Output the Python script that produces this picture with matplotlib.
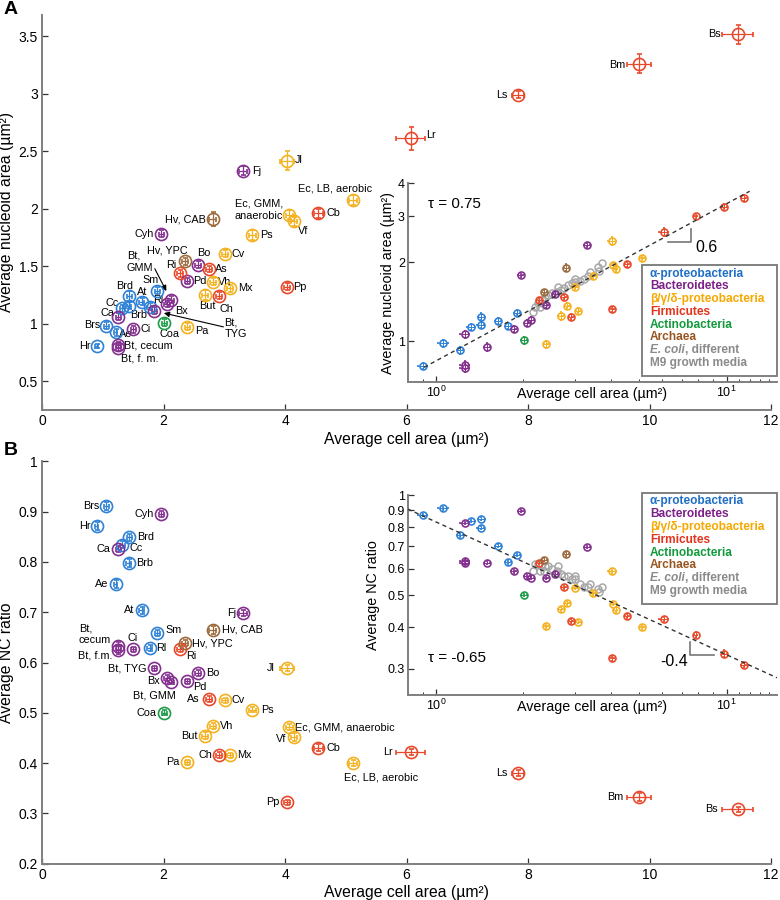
import matplotlib
matplotlib.use("Agg")
import matplotlib.pyplot as plt
from matplotlib.patches import Rectangle
import numpy as np

plt.rcParams['font.family'] = ['Liberation Sans', 'DejaVu Sans']
plt.rcParams['mathtext.default'] = 'regular'

# ---------------- data ----------------
species = ['Hr', 'Brs', 'Ae', 'Cc', 'Brd', 'Brb', 'At', 'Rl', 'Sm',
           'Ca', 'Ci', 'Bt, cecum', 'Bt, f.m.', 'Bt, TYG', 'Bt, GMM', 'Bx', 'Pd', 'Bo', 'Cyh', 'Fj',
           'Pa', 'But', 'Vh', 'Mx', 'Cv', 'Ps', 'Jl', 'Ec, GMM, anaerobic', 'Vf', 'Ec, LB, aerobic',
           'Ri', 'As', 'Ch', 'Pp', 'Cb', 'Lr', 'Ls', 'Bm', 'Bs',
           'Coa', 'Hv, CAB', 'Hv, YPC']
group = ['alpha'] * 9 + ['bact'] * 11 + ['beta'] * 10 + ['firm'] * 9 + ['actino'] + ['archaea'] * 2
cell_area = [0.90, 1.06, 1.21, 1.32, 1.435, 1.425, 1.64, 1.77, 1.90,
             1.255, 1.50, 1.255, 1.255, 1.85, 2.12, 2.06, 2.39, 2.57, 1.96, 3.31,
             2.39, 2.69, 2.82, 3.09, 3.01, 3.46, 4.03, 4.07, 4.15, 5.12,
             2.27, 2.75, 2.92, 4.04, 4.55, 6.07, 7.83, 9.83, 11.45,
             2.01, 2.81, 2.36]
nucleoid_area = [0.804, 0.981, 0.923, 1.132, 1.239, 1.155, 1.19, 1.146, 1.285,
                 1.06, 0.95, 0.813, 0.79, 1.11, 1.207, 1.17, 1.37, 1.51, 1.78, 2.33,
                 0.972, 1.248, 1.364, 1.306, 1.607, 1.77, 2.416, 1.946, 1.89, 2.074,
                 1.436, 1.474, 1.24, 1.32, 1.96, 2.61, 2.99, 3.26, 3.515,
                 1.007, 1.906, 1.543]
nc_ratio = [0.871, 0.911, 0.757, 0.834, 0.849, 0.798, 0.704, 0.628, 0.659,
            0.825, 0.626, 0.633, 0.625, 0.589, 0.562, 0.569, 0.563, 0.580, 0.895, 0.698,
            0.402, 0.454, 0.474, 0.416, 0.525, 0.506, 0.590, 0.471, 0.451, 0.400,
            0.626, 0.527, 0.417, 0.322, 0.431, 0.423, 0.380, 0.333, 0.308,
            0.500, 0.665, 0.639]
area_err = [0.03, 0.04, 0.03, 0.04, 0.04, 0.04, 0.04, 0.04, 0.04,
            0.04, 0.04, 0.04, 0.04, 0.04, 0.05, 0.05, 0.04, 0.05, 0.04, 0.07,
            0.04, 0.05, 0.05, 0.05, 0.05, 0.06, 0.12, 0.06, 0.05, 0.06,
            0.05, 0.05, 0.05, 0.05, 0.08, 0.24, 0.10, 0.20, 0.25,
            0.04, 0.06, 0.05]
nucleoid_err = [0.02, 0.03, 0.03, 0.03, 0.04, 0.03, 0.03, 0.03, 0.03,
                0.03, 0.03, 0.03, 0.03, 0.03, 0.03, 0.03, 0.03, 0.03, 0.03, 0.04,
                0.03, 0.04, 0.03, 0.03, 0.03, 0.04, 0.08, 0.04, 0.04, 0.04,
                0.03, 0.03, 0.03, 0.03, 0.04, 0.10, 0.03, 0.08, 0.08,
                0.03, 0.06, 0.03]
nc_err = [0.008, 0.008, 0.008, 0.007, 0.007, 0.008, 0.007, 0.006, 0.006,
          0.006, 0.005, 0.008, 0.008, 0.005, 0.005, 0.006, 0.005, 0.006, 0.006, 0.006,
          0.005, 0.007, 0.006, 0.005, 0.005, 0.005, 0.006, 0.006, 0.008, 0.006,
          0.006, 0.006, 0.006, 0.005, 0.006, 0.006, 0.006, 0.008, 0.005,
          0.005, 0.008, 0.006]

ecoli_area = [2.16, 2.19, 2.25, 2.28, 2.31, 2.36, 2.37, 2.43, 2.51, 2.60, 2.63, 2.69,
              2.76, 2.85, 2.93, 3.01, 3.01, 3.13, 3.24, 3.34, 3.39, 3.60, 3.64, 3.73]
ecoli_nucleoid = [1.29, 1.35, 1.40, 1.35, 1.43, 1.39, 1.46, 1.50, 1.53, 1.54, 1.61, 1.57,
                  1.60, 1.63, 1.66, 1.68, 1.73, 1.69, 1.72, 1.77, 1.83, 1.91, 1.85, 1.99]
ecoli_nc = [0.59, 0.62, 0.62, 0.59, 0.62, 0.59, 0.61, 0.61, 0.60, 0.59, 0.61, 0.58,
            0.57, 0.57, 0.56, 0.56, 0.57, 0.54, 0.53, 0.53, 0.54, 0.52, 0.51, 0.53]

fitA = (0.84, 0.6)     # prefactor, exponent
fitB = (0.83, -0.4)
tauA, tauB = 0.75, -0.65

legend_names = ['α-proteobacteria', 'Bacteroidetes', 'β/γ/δ-proteobacteria', 'Firmicutes',
                'Actinobacteria', 'Archaea']
legend_groups = ['alpha', 'bact', 'beta', 'firm', 'actino', 'archaea']

# ---------------- styles ----------------
mcol = {'alpha': '#2f82d6', 'bact': '#84308f', 'beta': '#f4b120', 'firm': '#e8492b',
        'actino': '#1e9c48', 'archaea': '#9c6a3c', 'ecoli': '#a8a8a8'}
tcol = {'alpha': '#1f6fc4', 'bact': '#7b2187', 'beta': '#f5a800', 'firm': '#e2341d',
        'actino': '#129a3c', 'archaea': '#995520', 'ecoli': '#8a8a8a'}
SPINE = '#7f7f7f'
LBL = 7.8

# label offsets (pixels) and alignment, panel A
labA = {
    'Hr': ('Hr', -6, 0, 'right'), 'Brs': ('Brs', -6, 1, 'right'), 'Ae': ('Ae', 3, -2, 'left'),
    'Cc': ('Cc', -3, 5, 'right'), 'Brd': ('Brd', -5, 10, 'center'), 'Brb': ('Brb', 10, -9, 'center'),
    'At': ('At', 1, 10, 'center'), 'Rl': ('Rl', 9, 7, 'center'), 'Sm': ('Sm', 1, 11, 'right'),
    'Ca': ('Ca', -4, 4, 'right'), 'Ci': ('Ci', 7, 0, 'left'), 'Bt, cecum': ('Bt, cecum', 6, 0, 'left'),
    'Bt, f.m.': ('Bt, f. m.', 3, -11, 'left'), 'Bx': ('Bx', 8, -7, 'left'), 'Pd': ('Pd', 6, 0, 'left'),
    'Bo': ('Bo', 6, 12, 'center'), 'Cyh': ('Cyh', -7, 0, 'right'), 'Fj': ('Fj', 9, 0, 'left'),
    'Pa': ('Pa', 8, -4, 'left'), 'But': ('But', 2, -11, 'center'), 'Vh': ('Vh', 5, 0, 'left'),
    'Mx': ('Mx', 8, 0, 'left'), 'Cv': ('Cv', 7, 0, 'left'), 'Ps': ('Ps', 8, 0, 'left'),
    'Jl': ('Jl', 8, 1, 'left'), 'Ec, GMM, anaerobic': ('Ec, GMM,\nanaerobic', -6, 5, 'right'),
    'Vf': ('Vf', 4, -10, 'left'), 'Ec, LB, aerobic': ('Ec, LB, aerobic', -18, 12, 'center'),
    'Ri': ('Ri', -4, 8, 'right'), 'As': ('As', 6, 0, 'left'), 'Ch': ('Ch', 7, -13, 'center'),
    'Pp': ('Pp', 6, 0, 'left'), 'Cb': ('Cb', 8, 0, 'left'), 'Lr': ('Lr', 15, 3, 'left'),
    'Ls': ('Ls', -10, 0, 'right'), 'Bm': ('Bm', -14, -1, 'right'), 'Bs': ('Bs', -17, 0, 'right'),
    'Coa': ('Coa', 5, -11, 'center'), 'Hv, CAB': ('Hv, CAB', -7, 0, 'right'),
    'Hv, YPC': ('Hv, YPC', 2, 11, 'right'),
}
# arrow labels in panel A: (text, text dx, text dy, arrow tail dx, tail dy)
arrA = {'Bt, GMM': ('Bt,\nGMM', -44, 38, -16, 31),
        'Bt, TYG': ('Bt,\nTYG', 70, -17, 69, -16)}

labB = {
    'Hr': ('Hr', -6, 0, 'right'), 'Brs': ('Brs', -7, 0, 'right'), 'Ae': ('Ae', -7, 0, 'right'),
    'Cc': ('Cc', 7, -3, 'left'), 'Brd': ('Brd', 8, 0, 'left'), 'Brb': ('Brb', 8, 0, 'left'),
    'At': ('At', -7, 0, 'right'), 'Rl': ('Rl', 7, 0, 'left'), 'Sm': ('Sm', 8, 3, 'left'),
    'Ca': ('Ca', -8, 0, 'right'), 'Ci': ('Ci', 0, 11, 'center'), 'Bt, cecum': ('Bt,\ncecum', -7, 12, 'right'),
    'Bt, f.m.': ('Bt, f.m.', -6, -6, 'right'), 'Bt, TYG': ('Bt, TYG', -8, 0, 'right'),
    'Bt, GMM': ('Bt, GMM', -16, -14, 'center'), 'Bx': ('Bx', -7, -3, 'right'),
    'Pd': ('Pd', 6, -6, 'left'), 'Bo': ('Bo', 8, 0, 'left'), 'Cyh': ('Cyh', -7, 0, 'right'),
    'Fj': ('Fj', -7, 0, 'right'), 'Pa': ('Pa', -8, 0, 'right'), 'But': ('But', -8, 0, 'right'),
    'Vh': ('Vh', 7, 0, 'left'), 'Mx': ('Mx', 7, 0, 'left'), 'Cv': ('Cv', 7, 0, 'left'),
    'Ps': ('Ps', 9, 0, 'left'), 'Jl': ('Jl', -12, 0, 'right'),
    'Ec, GMM, anaerobic': ('Ec, GMM, anaerobic', 6, 0, 'left'), 'Vf': ('Vf', -8, -2, 'right'),
    'Ec, LB, aerobic': ('Ec, LB, aerobic', 28, -14, 'center'), 'Ri': ('Ri', 6, -7, 'left'),
    'As': ('As', -9, 0, 'right'), 'Ch': ('Ch', -7, 0, 'right'), 'Pp': ('Pp', -8, 0, 'right'),
    'Cb': ('Cb', 8, 0, 'left'), 'Lr': ('Lr', -18, 0, 'right'), 'Ls': ('Ls', -10, 0, 'right'),
    'Bm': ('Bm', -16, 0, 'right'), 'Bs': ('Bs', -20, 0, 'right'), 'Coa': ('Coa', -8, 0, 'right'),
    'Hv, CAB': ('Hv, CAB', 9, 0, 'left'), 'Hv, YPC': ('Hv, YPC', 7, -1, 'left'),
}

W, H = 780, 900
fig = plt.figure(figsize=(7.8, 9), dpi=100)


def rect(l, t, r, b):
    return [l / W, 1 - b / H, (r - l) / W, (b - t) / H]


def P(px, py):
    return px / W, 1 - py / H


def style_axes(ax, size=10):
    for s in ['top', 'right']:
        ax.spines[s].set_visible(False)
    for s in ['left', 'bottom']:
        ax.spines[s].set_color(SPINE)
        ax.spines[s].set_linewidth(1.4)
    ax.tick_params(direction='in', length=4, width=0.9, color='#333333', labelsize=size, pad=3)
    ax.tick_params(which='minor', direction='in', length=2.5, width=0.7, color='#333333')


def draw_points(ax, x, y, xe, ye, ms, mew, elw, cap):
    for i in range(len(species)):
        c = mcol[group[i]]
        ax.errorbar(x[i], y[i], xerr=xe[i], yerr=ye[i], fmt='o', ms=ms, mfc='none', mec=c,
                    mew=mew, ecolor=c, elinewidth=elw, capsize=cap, capthick=elw, zorder=3)


MAIN_R = 771

# ---------------- panel A main ----------------
axA = fig.add_axes(rect(42, 15, MAIN_R, 410))
style_axes(axA, 10)
axA.set_xlim(0, 12)
axA.set_ylim(0.248, 3.683)
axA.set_xticks([0, 2, 4, 6, 8, 10, 12])
axA.set_yticks([0.5, 1, 1.5, 2, 2.5, 3, 3.5])
axA.set_yticklabels(['0.5', '1', '1.5', '2', '2.5', '3', '3.5'])
axA.set_xlabel('Average cell area (µm²)', fontsize=11.3, labelpad=3)
axA.set_ylabel('Average nucleoid area (µm²)', fontsize=11.3, labelpad=3)
draw_points(axA, cell_area, nucleoid_area, area_err, nucleoid_err, 8.7, 1.2, 0.9, 1.8)
for i, n in enumerate(species):
    if n in labA:
        t, dx, dy, ha = labA[n]
        axA.annotate(t, (cell_area[i], nucleoid_area[i]), xytext=(dx, dy), textcoords='offset pixels',
                     ha=ha, va='center', fontsize=LBL, multialignment='left')
    if n in arrA:
        t, tx, ty, ax_, ay_ = arrA[n]
        axA.annotate(t, (cell_area[i], nucleoid_area[i]), xytext=(tx, ty), textcoords='offset pixels',
                     ha='left', va='center', fontsize=LBL, multialignment='left')
        axA.annotate('', (cell_area[i], nucleoid_area[i]), xytext=(ax_, ay_), textcoords='offset pixels',
                     arrowprops=dict(arrowstyle='-|>', color='black', lw=0.8, mutation_scale=8,
                                     shrinkA=0, shrinkB=7))

# ---------------- panel B main ----------------
axB = fig.add_axes(rect(42, 461.3, MAIN_R, 863.7))
style_axes(axB, 10)
axB.set_xlim(0, 12)
axB.set_ylim(0.2, 1.0)
axB.set_xticks([0, 2, 4, 6, 8, 10, 12])
axB.set_yticks([0.2, 0.3, 0.4, 0.5, 0.6, 0.7, 0.8, 0.9, 1.0])
axB.set_yticklabels(['0.2', '0.3', '0.4', '0.5', '0.6', '0.7', '0.8', '0.9', '1'])
axB.set_xlabel('Average cell area (µm²)', fontsize=11.3, labelpad=2)
axB.set_ylabel('Average NC ratio', fontsize=11.3, labelpad=3)
draw_points(axB, cell_area, nc_ratio, area_err, nc_err, 8.7, 1.2, 0.9, 1.8)
for i, n in enumerate(species):
    t, dx, dy, ha = labB[n]
    axB.annotate(t, (cell_area[i], nc_ratio[i]), xytext=(dx, dy), textcoords='offset pixels',
                 ha=ha, va='center', fontsize=LBL, multialignment='left')


# ---------------- insets ----------------
def inset(box, yvals, yerrs, eco_y, ylim, yticks, yticklabels, ylabel, fit, ylab_x):
    ax = fig.add_axes(rect(*box))
    ax.set_facecolor('none')
    style_axes(ax, 9)
    ax.set_xscale('log')
    ax.set_yscale('log')
    ax.set_xlim(0.8, 14.9)
    ax.set_ylim(*ylim)
    ax.set_xticks([1, 10])
    ax.set_xticklabels(['$10^0$', '$10^1$'])
    ax.set_xticks([0.8, 0.9, 2, 3, 4, 5, 6, 7, 8, 9, 11, 12, 13, 14], minor=True)
    ax.xaxis.set_minor_formatter(plt.NullFormatter())
    ax.set_yticks(yticks)
    ax.set_yticklabels(yticklabels)
    ax.yaxis.set_minor_locator(plt.NullLocator())
    ax.yaxis.set_minor_formatter(plt.NullFormatter())
    ax.tick_params(axis='both', pad=2)
    ax.text(0.5, -0.062, 'Average cell area (µm²)', transform=ax.transAxes, ha='center', va='center',
            fontsize=10.3)
    ax.set_ylabel(ylabel, fontsize=10.3, labelpad=2)
    ax.yaxis.set_label_coords(ylab_x, 0.5)
    # E. coli
    ax.plot(ecoli_area, eco_y, 'o', ms=5, mfc='none', mec=mcol['ecoli'], mew=1.1, zorder=2)
    for i in range(len(species)):
        c = mcol[group[i]]
        ax.errorbar(cell_area[i], yvals[i], xerr=area_err[i], yerr=yerrs[i], fmt='o', ms=5,
                    mfc='none', mec=c, mew=1.2, ecolor=c, elinewidth=0.7, capsize=1.0, zorder=3)
    xx = np.array([0.8, 14.9]) if fit[1] < 0 else np.array([0.91, 12.0])
    ax.plot(xx, fit[0] * xx ** fit[1], '--', color='#333333', lw=1.0, dashes=(3, 2.5), zorder=4)
    return ax


insA = inset((407.7, 183.3, 777, 381.7), nucleoid_area, nucleoid_err, ecoli_nucleoid, (0.70, 4.0),
             [1, 2, 3, 4], ['1', '2', '3', '4'], 'Average nucleoid area (µm²)', fitA, -0.035)
insB = inset((407.7, 495, 777, 695), nc_ratio, nc_err, ecoli_nc, (0.25, 1.0),
             [0.3, 0.4, 0.5, 0.6, 0.7, 0.8, 0.9, 1.0], ['0.3', '0.4', '0.5', '0.6', '0.7', '0.8', '0.9', '1'],
             'Average NC ratio', fitB, -0.075)

# tau texts and slope marks
insA.text(0.056, 0.896, 'τ = %.2f' % tauA, transform=insA.transAxes, fontsize=11, va='center')
insB.text(0.056, 0.185, 'τ = %.2f' % tauB, transform=insB.transAxes, fontsize=11, va='center')
insA.plot([6.28, 7.53, 7.53], [2.38, 2.38, 2.68], color='#777777', lw=1.2)
insA.text(0.809, 0.675, '%.1f' % fitA[1], transform=insA.transAxes, fontsize=11.5, ha='center', va='center')
insB.plot([7.48, 7.48, 9.04], [0.3605, 0.331, 0.331], color='#777777', lw=1.2)
insB.text(0.759, 0.17, '%.1f' % fitB[1], transform=insB.transAxes, fontsize=11.5, ha='right', va='center')


# legends
def legend(top, bottom):
    l, r = 642, 777
    fig.add_artist(Rectangle(P(l, bottom), (r - l) / W, (bottom - top) / H, transform=fig.transFigure,
                             fill=False, ec='#777777', lw=1.3, zorder=5))
    step = (bottom - top - 14) / 7.6
    y0 = top + 8.5
    for k, (name, g) in enumerate(zip(legend_names, legend_groups)):
        fig.text(*P(650, y0 + k * step), name, color=tcol[g], fontsize=8.6, fontweight='bold',
                 va='center', ha='left')
    t = fig.text(*P(650, y0 + 6 * step), 'E. coli', color=tcol['ecoli'], fontsize=8.6, fontweight='bold',
                 style='italic', va='center', ha='left')
    insA.annotate(', different', xy=(1, 0), xycoords=t, ha='left', va='bottom', color=tcol['ecoli'],
                  fontsize=8.6, fontweight='bold', annotation_clip=False)
    fig.text(*P(650, y0 + 7 * step), 'M9 growth media', color=tcol['ecoli'], fontsize=8.6,
             fontweight='bold', va='center', ha='left')


legend(265, 376)
legend(493, 604)

# panel letters
fig.text(*P(4, 10), 'A', fontsize=14, fontweight='bold', ha='left', va='center')
fig.text(*P(4, 451), 'B', fontsize=14, fontweight='bold', ha='left', va='center')

fig.savefig('out.png', dpi=100)
